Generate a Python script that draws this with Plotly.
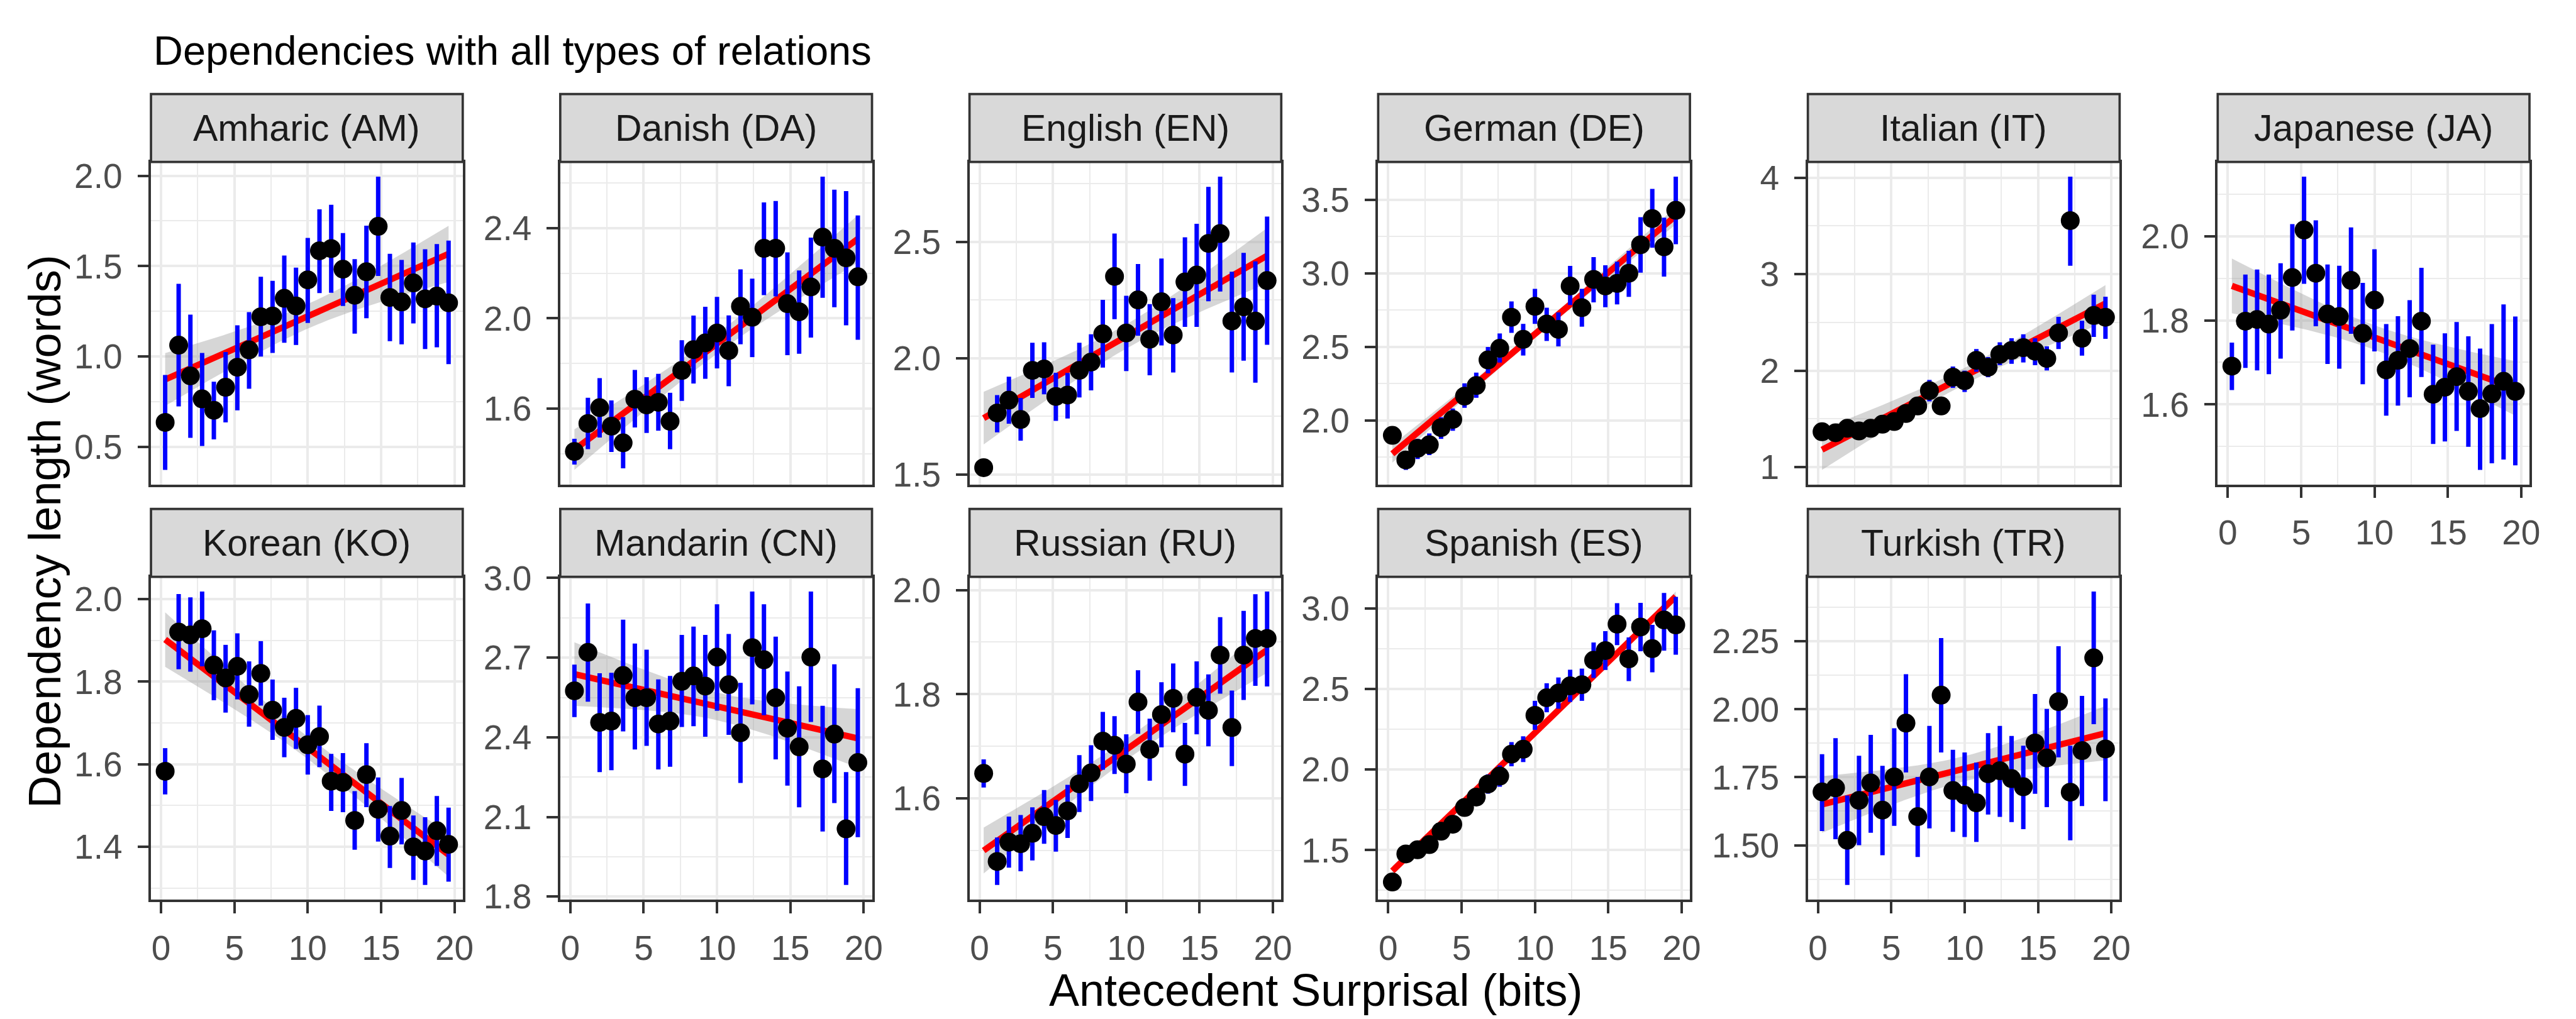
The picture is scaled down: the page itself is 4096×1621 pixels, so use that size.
import numpy as np
import plotly.graph_objects as go

# ---------------- data ----------------
surprisal = [0.28, 1.2, 2.0, 2.8, 3.6, 4.4, 5.2, 6.0, 6.8, 7.6, 8.4, 9.2, 10.0,
             10.8, 11.6, 12.4, 13.2, 14.0, 14.8, 15.6, 16.4, 17.2, 18.0, 18.8, 19.6]

languages = ["Amharic (AM)", "Danish (DA)", "English (EN)", "German (DE)", "Italian (IT)",
             "Japanese (JA)", "Korean (KO)", "Mandarin (CN)", "Russian (RU)", "Spanish (ES)",
             "Turkish (TR)"]

am_mean = [0.636,1.063,0.893,0.766,0.703,0.830,0.941,1.037,1.220,1.224,1.322,1.280,1.424,1.585,1.597,1.483,1.339,1.469,1.720,1.327,1.302,1.407,1.319,1.334,1.297]
am_hi = [0.898,1.402,1.232,1.020,0.861,1.025,1.173,1.246,1.441,1.419,1.559,1.492,1.656,1.814,1.839,1.683,1.539,1.724,1.995,1.568,1.534,1.631,1.593,1.622,1.641]
am_lo = [0.373,0.724,0.551,0.505,0.542,0.636,0.703,0.822,1.000,1.020,1.076,1.064,1.186,1.351,1.353,1.280,1.127,1.212,1.446,1.085,1.068,1.183,1.042,1.051,0.958]

da_mean = [1.410,1.534,1.604,1.522,1.448,1.642,1.616,1.628,1.544,1.769,1.861,1.891,1.935,1.857,2.053,2.005,2.310,2.310,2.065,2.029,2.139,2.360,2.310,2.268,2.184]
da_hi = [1.466,1.648,1.735,1.636,1.562,1.771,1.739,1.754,1.670,1.903,2.012,2.051,2.095,2.013,2.217,2.176,2.514,2.520,2.292,2.212,2.358,2.628,2.570,2.564,2.456]
da_lo = [1.352,1.420,1.472,1.408,1.335,1.516,1.492,1.502,1.420,1.634,1.711,1.732,1.778,1.699,1.885,1.828,2.103,2.097,1.837,1.843,1.915,2.091,2.049,1.969,1.905]

en_mean = [1.530,1.765,1.820,1.737,1.948,1.954,1.836,1.842,1.948,1.984,2.105,2.352,2.109,2.251,2.082,2.243,2.100,2.328,2.358,2.494,2.536,2.160,2.221,2.160,2.334]
en_hi = [1.540,1.842,1.921,1.830,2.067,2.069,1.938,1.937,2.067,2.103,2.251,2.536,2.269,2.405,2.233,2.429,2.259,2.520,2.578,2.737,2.781,2.372,2.453,2.417,2.609]
en_lo = [1.520,1.682,1.719,1.646,1.830,1.845,1.731,1.741,1.832,1.862,1.960,2.168,1.945,2.097,1.927,2.055,1.939,2.135,2.135,2.245,2.287,1.939,1.990,1.895,2.058]

de_mean = [1.899,1.732,1.811,1.835,1.952,2.007,2.165,2.237,2.411,2.490,2.701,2.551,2.775,2.655,2.619,2.913,2.766,2.958,2.913,2.931,3.000,3.193,3.371,3.179,3.427]
de_hi = [1.915,1.795,1.875,1.912,2.022,2.081,2.252,2.325,2.499,2.591,2.808,2.656,2.894,2.766,2.734,3.050,2.894,3.109,3.054,3.078,3.152,3.381,3.573,3.377,3.656]
de_lo = [1.883,1.664,1.738,1.765,1.875,1.930,2.086,2.154,2.320,2.393,2.595,2.441,2.656,2.540,2.503,2.784,2.637,2.802,2.769,2.788,2.839,3.004,3.173,2.977,3.197]

it_mean = [1.367,1.356,1.403,1.375,1.403,1.445,1.473,1.556,1.634,1.793,1.634,1.932,1.896,2.107,2.035,2.169,2.210,2.238,2.202,2.127,2.391,3.555,2.336,2.572,2.553]
it_hi = [1.390,1.380,1.430,1.400,1.430,1.475,1.510,1.600,1.690,1.904,1.660,2.043,2.000,2.224,2.141,2.294,2.336,2.377,2.336,2.252,2.558,4.011,2.517,2.787,2.767]
it_lo = [1.345,1.330,1.380,1.350,1.380,1.415,1.440,1.510,1.580,1.682,1.610,1.821,1.779,1.988,1.932,2.057,2.071,2.085,2.057,2.002,2.224,3.087,2.155,2.350,2.330]

ja_mean = [1.691,1.798,1.802,1.791,1.824,1.902,2.015,1.912,1.815,1.809,1.895,1.769,1.848,1.682,1.705,1.733,1.798,1.624,1.641,1.666,1.631,1.590,1.625,1.655,1.631]
ja_hi = [1.747,1.909,1.921,1.909,1.936,2.029,2.142,2.038,1.933,1.930,2.021,1.889,1.969,1.791,1.810,1.848,1.925,1.742,1.769,1.796,1.762,1.733,1.791,1.838,1.809]
ja_lo = [1.634,1.687,1.681,1.672,1.709,1.776,1.887,1.786,1.696,1.685,1.768,1.648,1.726,1.573,1.597,1.617,1.665,1.506,1.512,1.537,1.499,1.444,1.460,1.469,1.455]

ko_mean = [1.583,1.920,1.913,1.928,1.840,1.809,1.837,1.769,1.820,1.731,1.689,1.711,1.647,1.667,1.559,1.556,1.464,1.575,1.491,1.426,1.488,1.400,1.390,1.439,1.406]
ko_hi = [1.639,2.012,2.004,2.018,1.924,1.889,1.917,1.849,1.898,1.805,1.761,1.785,1.719,1.742,1.625,1.627,1.535,1.651,1.568,1.499,1.567,1.476,1.472,1.523,1.495]
ko_lo = [1.527,1.830,1.824,1.837,1.755,1.725,1.757,1.691,1.742,1.659,1.617,1.637,1.575,1.593,1.487,1.484,1.393,1.496,1.413,1.349,1.406,1.320,1.308,1.354,1.316]

cn_mean = [2.575,2.720,2.456,2.461,2.633,2.549,2.549,2.450,2.461,2.611,2.631,2.593,2.702,2.598,2.417,2.738,2.692,2.549,2.434,2.364,2.702,2.281,2.412,2.055,2.305]
cn_hi = [2.674,2.904,2.641,2.643,2.843,2.753,2.730,2.618,2.631,2.786,2.817,2.786,2.901,2.789,2.605,2.949,2.901,2.779,2.648,2.592,2.949,2.519,2.675,2.269,2.585]
cn_lo = [2.476,2.534,2.269,2.276,2.422,2.354,2.368,2.279,2.289,2.439,2.442,2.402,2.500,2.409,2.228,2.524,2.483,2.317,2.218,2.136,2.458,2.045,2.152,1.844,2.024]

ru_mean = [1.648,1.479,1.516,1.513,1.533,1.565,1.548,1.576,1.628,1.649,1.710,1.702,1.666,1.785,1.694,1.761,1.792,1.685,1.794,1.769,1.875,1.736,1.875,1.907,1.907]
ru_hi = [1.675,1.525,1.565,1.568,1.583,1.616,1.597,1.626,1.683,1.702,1.766,1.758,1.723,1.846,1.753,1.823,1.859,1.745,1.863,1.838,1.948,1.807,1.960,1.992,1.997]
ru_lo = [1.621,1.434,1.467,1.460,1.481,1.513,1.498,1.524,1.574,1.595,1.655,1.647,1.610,1.724,1.634,1.698,1.727,1.624,1.723,1.700,1.801,1.662,1.789,1.816,1.815]

es_mean = [1.302,1.476,1.502,1.534,1.617,1.660,1.764,1.829,1.910,1.959,2.095,2.126,2.336,2.445,2.474,2.519,2.526,2.678,2.738,2.902,2.686,2.884,2.750,2.928,2.897]
es_hi = [1.320,1.495,1.525,1.560,1.647,1.695,1.805,1.880,1.970,2.025,2.170,2.206,2.426,2.535,2.571,2.619,2.626,2.788,2.858,3.032,2.819,3.034,2.897,3.095,3.071]
es_lo = [1.284,1.457,1.479,1.508,1.587,1.625,1.723,1.778,1.850,1.893,2.020,2.046,2.246,2.355,2.377,2.419,2.426,2.568,2.618,2.772,2.548,2.734,2.603,2.738,2.712]

tr_mean = [1.696,1.711,1.518,1.665,1.729,1.629,1.751,1.949,1.605,1.751,2.052,1.701,1.684,1.656,1.763,1.774,1.745,1.715,1.876,1.821,2.028,1.695,1.848,2.189,1.854]
tr_hi = [1.835,1.894,1.683,1.829,1.906,1.792,1.930,2.129,1.751,1.939,2.262,1.851,1.841,1.804,1.912,1.939,1.902,1.866,2.056,2.001,2.232,1.866,2.049,2.433,2.040]
tr_lo = [1.552,1.522,1.354,1.500,1.546,1.463,1.571,1.768,1.457,1.562,1.841,1.549,1.530,1.512,1.613,1.604,1.585,1.559,1.689,1.640,1.823,1.518,1.644,1.945,1.662]

# linear fit: value at first x, value at last x,
# CI half-width at start, at centre, at end
fit_start = [0.873, 1.418, 1.743, 1.774, 1.181, 1.882, 1.902, 2.638, 1.500, 1.371, 1.650]
fit_end   = [1.568, 2.352, 2.441, 3.390, 2.697, 1.638, 1.381, 2.396, 1.885, 3.074, 1.912]
ci_start  = [0.146, 0.090, 0.113, 0.060, 0.210, 0.065, 0.066, 0.120, 0.044, 0.030, 0.104]
ci_mid    = [0.068, 0.044, 0.052, 0.027, 0.085, 0.029, 0.027, 0.052, 0.020, 0.014, 0.046]
ci_end    = [0.155, 0.105, 0.119, 0.060, 0.190, 0.065, 0.053, 0.110, 0.044, 0.030, 0.100]

y_tick_step = [0.5, 0.4, 0.5, 0.5, 1.0, 0.2, 0.2, 0.3, 0.2, 0.5, 0.25]
y_tick_fmt = [".1f", ".1f", ".1f", ".1f", ".0f", ".1f", ".1f", ".1f", ".1f", ".1f", ".2f"]

means = [am_mean, da_mean, en_mean, de_mean, it_mean, ja_mean, ko_mean, cn_mean, ru_mean, es_mean, tr_mean]
his = [am_hi, da_hi, en_hi, de_hi, it_hi, ja_hi, ko_hi, cn_hi, ru_hi, es_hi, tr_hi]
los = [am_lo, da_lo, en_lo, de_lo, it_lo, ja_lo, ko_lo, cn_lo, ru_lo, es_lo, tr_lo]

# ---------------- layout geometry (reference px, 4394 x 1739) ----------------
RW, RH = 4394.0, 1739.0
col_left = [250, 951, 1652, 2352, 3088, 3790]
panel_w = 534
row_plot = [(245, 815), (978, 1548)]   # top, bottom
strip_h = 120

FONT = "Liberation Sans, Arial, Helvetica, sans-serif"
GRID = "#EBEBEB"
DARK = "#333333"
TICKFONT = dict(family=FONT, size=55, color="#4D4D4D")

x_arr = np.array(surprisal)
xpad = 0.05 * (x_arr.max() - x_arr.min())
x_range = [x_arr.min() - xpad, x_arr.max() + xpad]

fig = go.Figure()
layout = dict(
    width=4096, height=1621,
    margin=dict(l=0, r=0, t=0, b=0),
    paper_bgcolor="white", plot_bgcolor="white",
    showlegend=False,
    font=dict(family=FONT),
    shapes=[], annotations=[],
)

for i, name in enumerate(languages):
    k = i + 1
    row, col = (0, i) if i < 6 else (1, i - 6)
    xa = "x" if k == 1 else f"x{k}"
    ya = "y" if k == 1 else f"y{k}"
    xkey = "xaxis" if k == 1 else f"xaxis{k}"
    ykey = "yaxis" if k == 1 else f"yaxis{k}"

    m = np.array(means[i]); hi = np.array(his[i]); lo = np.array(los[i])

    # fit line and confidence band
    x0, x1 = x_arr.min(), x_arr.max()
    xs = np.linspace(x0, x1, 80)
    fy = fit_start[i] + (fit_end[i] - fit_start[i]) * (xs - x0) / (x1 - x0)
    xc = x_arr.mean()
    hw = np.where(
        xs < xc,
        np.sqrt(ci_mid[i] ** 2 + (ci_start[i] ** 2 - ci_mid[i] ** 2) * ((xs - xc) / (x0 - xc)) ** 2),
        np.sqrt(ci_mid[i] ** 2 + (ci_end[i] ** 2 - ci_mid[i] ** 2) * ((xs - xc) / (x1 - xc)) ** 2),
    )
    up, dn = fy + hw, fy - hw

    fig.add_trace(go.Scatter(
        x=np.concatenate([xs, xs[::-1]]), y=np.concatenate([up, dn[::-1]]),
        fill="toself", fillcolor="rgba(153,153,153,0.4)", line=dict(width=0),
        mode="lines", hoverinfo="skip", xaxis=xa, yaxis=ya))
    fig.add_trace(go.Scatter(
        x=[x0, x1], y=[fit_start[i], fit_end[i]], mode="lines",
        line=dict(color="#FF0000", width=10), hoverinfo="skip", xaxis=xa, yaxis=ya))
    fig.add_trace(go.Scatter(
        x=surprisal, y=m, mode="markers",
        marker=dict(size=1, color="rgba(0,0,0,0)"),
        error_y=dict(type="data", symmetric=False, array=hi - m, arrayminus=m - lo,
                     color="#0000FF", thickness=7, width=0),
        xaxis=xa, yaxis=ya))
    fig.add_trace(go.Scatter(
        x=surprisal, y=m, mode="markers",
        marker=dict(size=30, color="black", line=dict(width=0)),
        xaxis=xa, yaxis=ya))

    # y range as ggplot: data range + 5%
    ymin = min(lo.min(), dn.min()); ymax = max(hi.max(), up.max())
    ypad = 0.05 * (ymax - ymin)
    y_range = [ymin - ypad, ymax + ypad]

    left = col_left[col]; top, bottom = row_plot[row]
    xdom = [left / RW, (left + panel_w) / RW]
    ydom = [1 - bottom / RH, 1 - top / RH]
    bottom_panel = (row == 1) or (col == 5)

    layout[xkey] = dict(
        domain=xdom, range=x_range, anchor=ya,
        tickmode="linear", tick0=0, dtick=5,
        showgrid=True, gridcolor=GRID, gridwidth=3.7,
        minor=dict(tickmode="linear", tick0=0, dtick=2.5, showgrid=True,
                   gridcolor=GRID, gridwidth=1.9, ticks=""),
        zeroline=False, showline=True, mirror=True, linecolor=DARK, linewidth=3.7,
        ticks="outside" if bottom_panel else "", ticklen=17.7, tickwidth=3.7, tickcolor=DARK,
        showticklabels=bottom_panel, tickfont=TICKFONT, ticklabelstandoff=8,
    )
    step = y_tick_step[i]
    layout[ykey] = dict(
        domain=ydom, range=y_range, anchor=xa,
        tickmode="linear", tick0=0, dtick=step, tickformat=y_tick_fmt[i],
        showgrid=True, gridcolor=GRID, gridwidth=3.7,
        minor=dict(tickmode="linear", tick0=0, dtick=step / 2, showgrid=True,
                   gridcolor=GRID, gridwidth=1.9, ticks=""),
        zeroline=False, showline=True, mirror=True, linecolor=DARK, linewidth=3.7,
        ticks="outside", ticklen=17.7, tickwidth=3.7, tickcolor=DARK,
        showticklabels=True, tickfont=TICKFONT, ticklabelstandoff=13,
    )

    # strip
    layout["shapes"].append(dict(
        type="rect", xref="paper", yref="paper",
        x0=xdom[0], x1=xdom[1], y0=ydom[1], y1=1 - (top - strip_h) / RH,
        fillcolor="#D9D9D9", line=dict(color=DARK, width=3.7), layer="above"))
    layout["annotations"].append(dict(
        text=name, xref="paper", yref="paper",
        x=(xdom[0] + xdom[1]) / 2, y=1 - (top - strip_h / 2) / RH,
        xanchor="center", yanchor="middle", showarrow=False,
        font=dict(family=FONT, size=59, color="#1A1A1A")))

# titles
layout["annotations"].append(dict(
    text="Dependencies with all types of relations", xref="paper", yref="paper",
    x=252 / RW, y=1 - 48 / RH, xanchor="left", yanchor="middle", showarrow=False,
    font=dict(family=FONT, size=65, color="black")))
layout["annotations"].append(dict(
    text="Antecedent Surprisal (bits)", xref="paper", yref="paper",
    x=2245 / RW, y=1 - 1708 / RH,
    xanchor="center", yanchor="middle", showarrow=False,
    font=dict(family=FONT, size=72, color="black")))
layout["annotations"].append(dict(
    text="Dependency length (words)", xref="paper", yref="paper",
    x=67 / RW, y=1 - 898 / RH, xanchor="center", yanchor="middle", textangle=-90,
    showarrow=False, font=dict(family=FONT, size=72, color="black")))

fig.update_layout(**layout)
fig.write_html("out.html")
